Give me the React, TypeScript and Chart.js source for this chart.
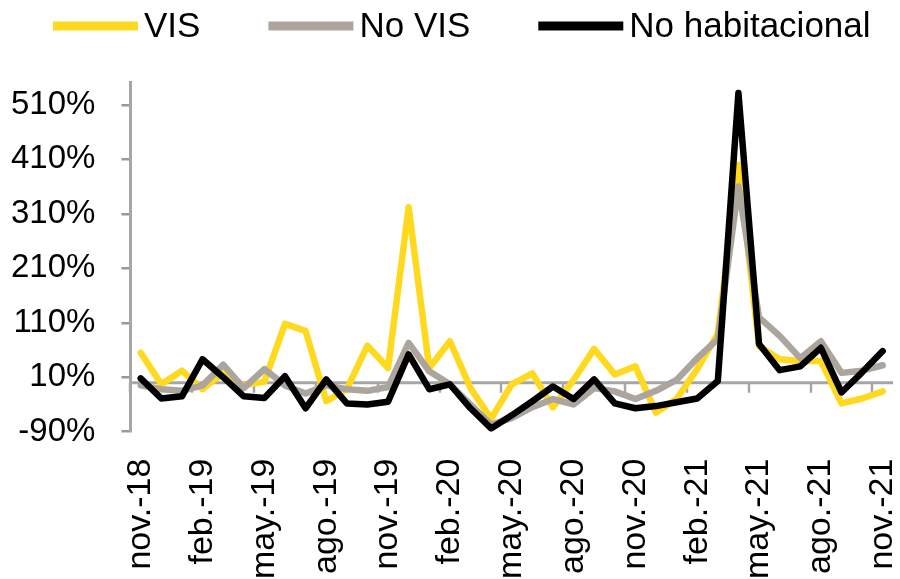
import { useEffect, useRef } from 'react';
import { Chart, registerables } from 'chart.js';

Chart.register(...registerables);

const months = [
  'nov.-18', 'dic.-18', 'ene.-19', 'feb.-19', 'mar.-19', 'abr.-19', 'may.-19', 'jun.-19', 'jul.-19',
  'ago.-19', 'sep.-19', 'oct.-19', 'nov.-19', 'dic.-19', 'ene.-20', 'feb.-20', 'mar.-20', 'abr.-20',
  'may.-20', 'jun.-20', 'jul.-20', 'ago.-20', 'sep.-20', 'oct.-20', 'nov.-20', 'dic.-20', 'ene.-21',
  'feb.-21', 'mar.-21', 'abr.-21', 'may.-21', 'jun.-21', 'jul.-21', 'ago.-21', 'sep.-21', 'oct.-21', 'nov.-21',
];

const visValues = [55, -3, 22, -12, 18, -5, 2, 108, 95, -34, -12, 68, 27, 322, 27, 76, -10, -66, -3, 17, -45, 5, 62, 15, 30, -55, -30, 25, 90, 400, 67, 43, 40, 40, -38, -29, -16];
const noVisValues = [-5, -12, -15, -5, 33, -10, 25, -5, -20, -5, -12, -15, -8, 73, 21, -3, -40, -77, -65, -45, -30, -40, -10, -16, -30, -15, 5, 45, 80, 360, 120, 86, 45, 76, 18, 22, 32];
const noHabValues = [8, -29, -25, 43, 10, -25, -28, 12, -47, 6, -38, -40, -35, 52, -12, -3, -47, -84, -60, -34, -7, -30, 6, -38, -47, -43, -36, -29, 3, 532, 71, 23, 30, 64, -18, 19, 58];

const yTickValues = [-90, 10, 110, 210, 310, 410, 510];
const seriesNames = ['VIS', 'No VIS', 'No habitacional'];
const seriesColors = ['#FFD91E', '#ABA59D', '#000000'];

const FONT = "'Liberation Sans', Arial, sans-serif";
const AXIS_GRAY = '#A6A6A6';
const Y_TICK_PADDING = 26;

const zeroAxisPlugin = {
  id: 'zeroAxis',
  beforeDatasetsDraw(chart: any) {
    const { ctx, chartArea, scales } = chart;
    const x = scales.x;
    const y = scales.y;
    const y0 = y.getPixelForValue(0);
    ctx.save();
    ctx.strokeStyle = AXIS_GRAY;
    ctx.lineWidth = 3;
    ctx.beginPath();
    ctx.moveTo(chartArea.left, y0);
    ctx.lineTo(chartArea.right, y0);
    ctx.stroke();
    const half = (x.getPixelForValue(1) - x.getPixelForValue(0)) / 2;
    ctx.lineWidth = 2.5;
    ctx.beginPath();
    for (let i = 0; i < months.length; i += 3) {
      const px = Math.round(x.getPixelForValue(i) - half);
      ctx.moveTo(px, y0);
      ctx.lineTo(px, y0 + 10);
    }
    ctx.stroke();
    ctx.restore();
  },
};

const topLegendPlugin = {
  id: 'topLegend',
  afterDraw(chart: any) {
    const ctx = chart.ctx;
    ctx.save();
    ctx.font = `35px ${FONT}`;
    ctx.textBaseline = 'alphabetic';
    ctx.textAlign = 'left';
    let x = 53;
    const yc = 26;
    chart.data.datasets.forEach((ds: any) => {
      ctx.fillStyle = ds.borderColor;
      ctx.fillRect(x, yc - 4.5, 85, 9);
      x += 85 + 6;
      ctx.fillStyle = '#000000';
      ctx.fillText(ds.label, x, 37);
      x += ctx.measureText(ds.label).width + 68;
    });
    ctx.restore();
  },
};

export default function App() {
  const canvasRef = useRef<HTMLCanvasElement | null>(null);

  useEffect(() => {
    if (!canvasRef.current) return;
    const seriesValues = [visValues, noVisValues, noHabValues];
    const chart = new Chart(canvasRef.current, {
      type: 'line',
      data: {
        labels: months,
        datasets: seriesNames.map((name, i) => ({
          label: name,
          data: seriesValues[i],
          borderColor: seriesColors[i],
          backgroundColor: seriesColors[i],
          borderWidth: 6.5,
          pointRadius: 0,
          pointHoverRadius: 0,
          tension: 0,
          borderJoinStyle: 'round' as const,
          borderCapStyle: 'round' as const,
          order: 3 - i,
          fill: false,
        })),
      },
      options: {
        responsive: false,
        maintainAspectRatio: false,
        animation: false,
        layout: { padding: { top: 82, left: 11, right: 7, bottom: 0 } },
        plugins: {
          legend: { display: false },
          tooltip: { enabled: false },
        },
        scales: {
          x: {
            type: 'category',
            offset: true,
            border: { display: false },
            grid: {
              display: true,
              drawOnChartArea: false,
              drawTicks: true,
              tickLength: 27,
              color: 'rgba(0,0,0,0)',
            },
            ticks: {
              autoSkip: false,
              minRotation: 90,
              maxRotation: 90,
              padding: 0,
              color: '#000000',
              font: { family: FONT, size: 34 },
              callback: (_v: any, idx: number) => (idx % 3 === 0 ? months[idx] : ''),
            },
            afterFit: (s: any) => {
              s.paddingLeft = 0;
              s.paddingRight = 0;
            },
          },
          y: {
            type: 'linear',
            min: -90,
            max: 552,
            afterBuildTicks: (s: any) => {
              s.ticks = yTickValues.map((v) => ({ value: v }));
            },
            afterFit: (s: any) => {
              s.width = s.width - Y_TICK_PADDING;
            },
            border: { display: true, color: AXIS_GRAY, width: 3 },
            grid: {
              display: true,
              drawOnChartArea: false,
              drawTicks: true,
              tickLength: 9,
              color: '#9A9A9A',
              lineWidth: 2.5,
            },
            ticks: {
              padding: Y_TICK_PADDING,
              color: '#000000',
              font: { family: FONT, size: 33 },
              callback: (v: any) => `${v}%`,
            },
          },
        },
      },
      plugins: [zeroAxisPlugin, topLegendPlugin],
    });
    return () => chart.destroy();
  }, []);

  return (
    <div style={{ position: 'fixed', left: 0, top: 0, width: 900, height: 579, background: '#ffffff' }}>
      <canvas ref={canvasRef} width={900} height={579} style={{ display: 'block', width: 900, height: 579 }} />
    </div>
  );
}
